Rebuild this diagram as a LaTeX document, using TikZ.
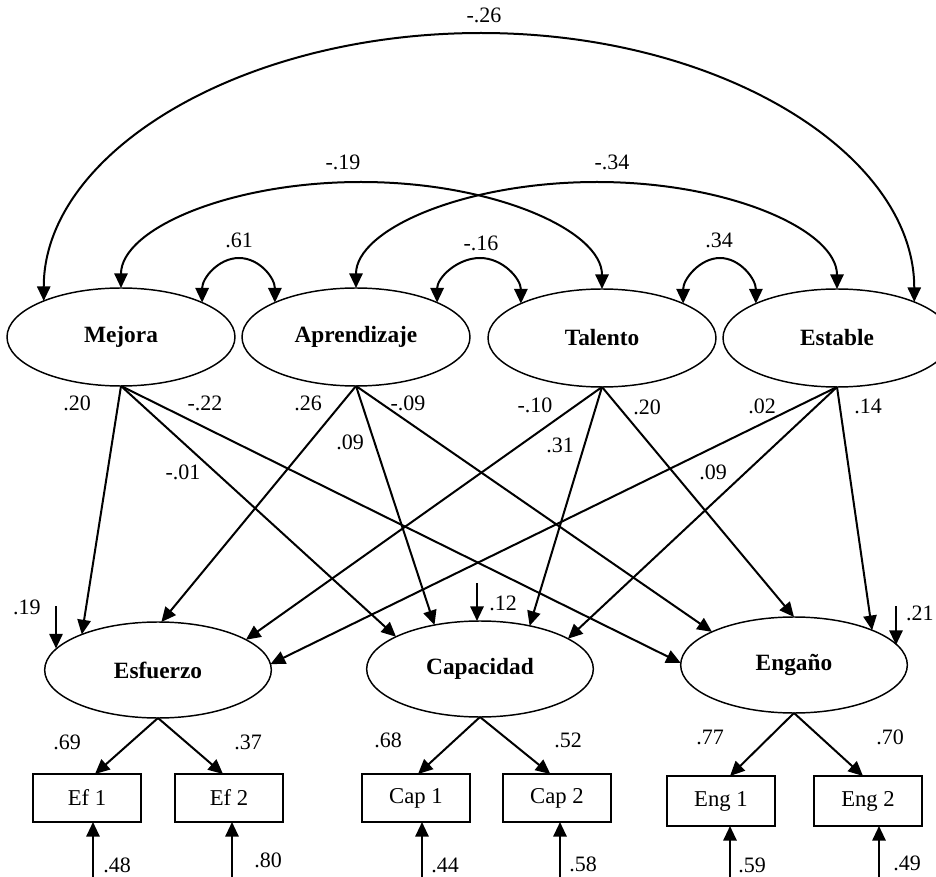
\documentclass[tikz,border=0pt]{standalone}
\usepackage{fontspec}
\setmainfont{Liberation Serif}
\usetikzlibrary{arrows.meta,shapes.geometric}
\begin{document}
\begin{tikzpicture}[x=0.75pt,y=-0.75pt,
  lat/.style={draw,line width=1.1pt,ellipse,minimum width=171pt,minimum height=73.5pt,inner sep=0pt,outer sep=0pt,font=\fontsize{17.5}{20}\selectfont\bfseries},
  latb/.style={lat,minimum width=170pt,minimum height=72pt},
  obs/.style={draw,line width=1.1pt,rectangle,minimum width=81pt,minimum height=36pt,inner sep=0pt,outer sep=0pt,font=\fontsize{17}{20}\selectfont},
  arr/.style={line width=1.5pt,-{Triangle[length=11pt,width=10pt]}},
  cov/.style={line width=1.5pt,{Triangle[length=11pt,width=10pt]}-{Triangle[length=11pt,width=10pt]}},
  num/.style={font=\fontsize{16.5}{19}\selectfont,inner sep=0pt}
]
\useasboundingbox (0,0) rectangle (936,877);
\fill[white] (0,0) rectangle (936,877);

% latent factors (top)
\node[lat] (Mej) at (121,337) {Mejora};
\node[lat] (Apr) at (356,337) {Aprendizaje};
\node[lat] (Tal) at (602,338) {Talento};
\node[lat] (Est) at (837,338) {Estable};

% latent outcomes (bottom)
\node[latb] (Esf) at (158,670) {Esfuerzo};
\node[latb] (Cap) at (480,669) {Capacidad};
\node[latb] (Eng) at (794,665) {Engaño};

% indicators
\node[obs] (Ef1) at (87,798) {Ef 1};
\node[obs] (Ef2) at (229,798) {Ef 2};
\node[obs] (Cp1) at (416,798) {Cap 1};
\node[obs] (Cp2) at (557,798) {Cap 2};
\node[obs,minimum height=37.5pt] (Eg1) at (721,801) {Eng 1};
\node[obs,minimum height=37.5pt] (Eg2) at (868,801) {Eng 2};

% arc peaks
\coordinate (pk1) at (481,33);
\coordinate (pk2) at (361,182);
\coordinate (pk3) at (597,182);
\coordinate (pk4) at (239,258);
\coordinate (pk5) at (480,258);
\coordinate (pk6) at (720,258);

% covariances
\draw[cov] (Mej.155) .. controls +(0,-148) and +(-241,0) .. (pk1)
  .. controls +(240,0) and +(0,-148) .. (Est.25);
\draw[cov] (Mej.north) .. controls +(0,-58.5) and +(-132.6,0) .. (pk2)
  .. controls +(132.6,0) and +(0,-58.5) .. (Tal.north);
\draw[cov] (Apr.north) .. controls +(0,-58.5) and +(-133,0) .. (pk3)
  .. controls +(133,0) and +(0,-58.5) .. (Est.north);
\draw[cov] (Mej.23) .. controls +(0,-24.6) and +(-20.4,0) .. (pk4)
  .. controls +(20.4,0) and +(0,-24.6) .. (Apr.157);
\draw[cov] (Apr.23) .. controls +(0,-24.6) and +(-23,0) .. (pk5)
  .. controls +(23,0) and +(0,-24.6) .. (Tal.157);
\draw[cov] (Tal.23) .. controls +(0,-24.6) and +(-20,0) .. (pk6)
  .. controls +(20,0) and +(0,-24.6) .. (Est.157);

% structural paths
\draw[arr] (Mej.south) -- (Esf.155);
\draw[arr] (Mej.south) -- (Cap.159);
\draw[arr] (Mej.south) -- (Eng.179);
\draw[arr] (Apr.south) -- (Esf.86);
\draw[arr] (Apr.south) -- (Cap.136);
\draw[arr] (Apr.south) -- (Eng.158);
\draw[arr] (Tal.south) -- (Esf.19);
\draw[arr] (Tal.south) -- (Cap.41);
\draw[arr] (Tal.south) -- (Eng.90);
\draw[arr] (Est.south) -- (Esf.3);
\draw[arr] (Est.south) -- (Cap.19);
\draw[arr] (Est.south) -- (Eng.24);

% residuals on outcomes
\coordinate (r1) at (56,606);
\coordinate (r2) at (477,583);
\coordinate (r3) at (896,606);
\draw[arr] (r1) -- (r1 |- Esf.168);
\draw[arr] (r2) -- (r2 |- Cap.north);
\draw[arr] (r3) -- (r3 |- Eng.11);

% loadings
\draw[arr] (Esf.south) -- ([xshift=6pt]Ef1.north);
\draw[arr] (Esf.south) -- ([xshift=-4.5pt]Ef2.north);
\draw[arr] (Cap.south) -- ([xshift=1.5pt]Cp1.north);
\draw[arr] (Cap.south) -- ([xshift=-5pt]Cp2.north);
\draw[arr] (Eng.south) -- ([xshift=6.75pt]Eg1.north);
\draw[arr] (Eng.south) -- ([xshift=-3.75pt]Eg2.north);

% measurement errors
\coordinate (e1) at (93,882);
\coordinate (e2) at (232,882);
\coordinate (e3) at (422,882);
\coordinate (e4) at (560,882);
\coordinate (e5) at (730,882);
\coordinate (e6) at (879,882);
\draw[arr] (e1) -- (e1 |- Ef1.south);
\draw[arr] (e2) -- (e2 |- Ef2.south);
\draw[arr] (e3) -- (e3 |- Cp1.south);
\draw[arr] (e4) -- (e4 |- Cp2.south);
\draw[arr] (e5) -- (e5 |- Eg1.south);
\draw[arr] (e6) -- (e6 |- Eg2.south);

% labels
\node[num] (l1) at (484,15) {-.26};
\node[num] (l2) at (343,162) {-.19};
\node[num] (l3) at (612,162) {-.34};
\node[num] (l4) at (239,240) {.61};
\node[num] (l5) at (481,243) {-.16};
\node[num] (l6) at (719,240) {.34};
\node[num] (l7) at (77,403) {.20};
\node[num] (l8) at (205,403) {-.22};
\node[num] (l9) at (308,403) {.26};
\node[num] (l10) at (408,403) {-.09};
\node[num] (l11) at (183,472) {-.01};
\node[num] (l12) at (350,442) {.09};
\node[num] (l13) at (535,405) {-.10};
\node[num] (l14) at (560,445) {.31};
\node[num] (l15) at (647,407) {.20};
\node[num] (l16) at (762,406) {.02};
\node[num] (l17) at (713,472) {.09};
\node[num] (l18) at (868,406) {.14};
\node[num] (l19) at (27,607) {.19};
\node[num] (l20) at (503,603) {.12};
\node[num,anchor=east] (l21) at (934,613) {.21};
\node[num] (l22) at (67,742) {.69};
\node[num] (l23) at (248,742) {.37};
\node[num] (l24) at (388,740) {.68};
\node[num] (l25) at (568,740) {.52};
\node[num] (l26) at (710,737) {.77};
\node[num] (l27) at (890,737) {.70};
\node[num] (l28) at (117,865) {.48};
\node[num] (l29) at (268,860) {.80};
\node[num] (l30) at (445,865) {.44};
\node[num] (l31) at (583,864) {.58};
\node[num] (l32) at (752,865) {.59};
\node[num] (l33) at (907,863) {.49};
\end{tikzpicture}
\end{document}
